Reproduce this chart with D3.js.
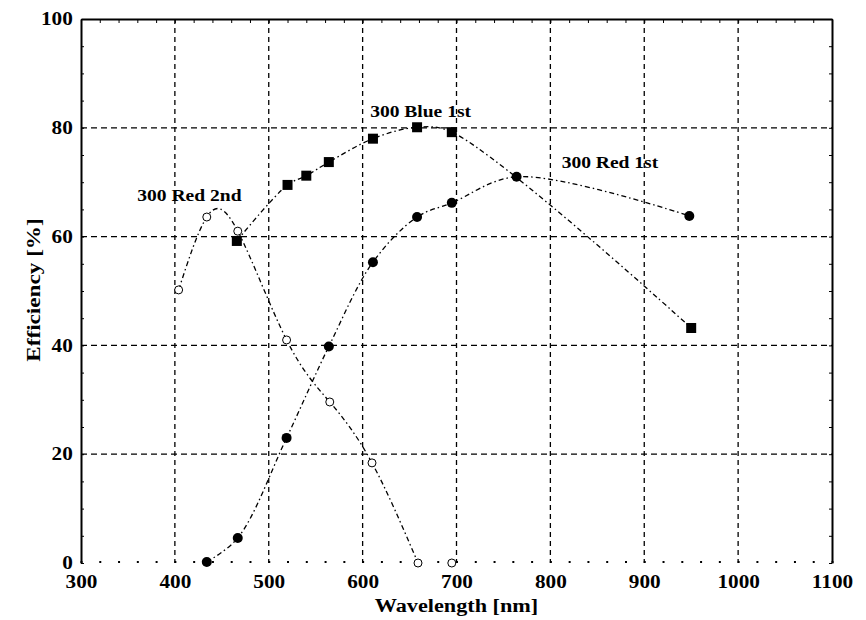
<!DOCTYPE html>
<html lang="en">
<head>
<meta charset="UTF-8">
<title>Grating efficiency</title>
<script src="https://d3js.org/d3.v7.min.js"></script>
<style>
    body { margin: 0; background: #fff; }
    svg text { font-family: "Liberation Serif", "Times New Roman", serif; font-weight: bold; fill: #000; }
</style>
</head>
<body>
<svg width="866" height="620"></svg>

<script>
    // data (wavelength in nm, efficiency in %)
    const blue1Wl  = [466, 520, 540, 564, 611, 658, 695, 950];
    const blue1Eff = [59.2, 69.5, 71.2, 73.7, 78.0, 80.1, 79.2, 43.2];

    const red1Wl  = [434, 467, 519, 564, 611, 658, 695, 764, 948];
    const red1Eff = [0.2, 4.6, 23.0, 39.8, 55.3, 63.6, 66.2, 71.0, 63.8];

    const red2Wl  = [404, 434, 467, 519, 565, 610, 659, 695];
    const red2Eff = [50.2, 63.6, 61.0, 41.0, 29.6, 18.4, 0, 0];

    const wlTicks  = [300, 400, 500, 600, 700, 800, 900, 1000, 1100];
    const effTicks = [0, 20, 40, 60, 80, 100];

    const zip = (xs, ys) => xs.map((x, i) => ({x: x, y: ys[i]}));
    const blue1 = zip(blue1Wl, blue1Eff),
          red1 = zip(red1Wl, red1Eff),
          red2 = zip(red2Wl, red2Eff);

    var svg = d3.select("svg"),
        marginLeft = 81, marginTop = 19,
        width = 751, height = 544;

    var x = d3.scaleLinear().domain([300, 1100]).range([0, width]),
        y = d3.scaleLinear().domain([0, 100]).range([height, 0]);

    var g = svg.append("g").attr("transform", "translate(" + marginLeft + "," + marginTop + ")");

    const stretch = 1.18;   // the original font is wider than Liberation Serif

    // grid
    g.selectAll(".vgrid")
        .data(wlTicks.slice(1, -1))
        .enter().append("line")
        .attr("x1", d => x(d)).attr("x2", d => x(d))
        .attr("y1", 0).attr("y2", height)
        .attr("stroke", "#000").attr("stroke-width", 1.3)
        .attr("stroke-dasharray", "5,4");

    g.selectAll(".hgrid")
        .data(effTicks.slice(1, -1))
        .enter().append("line")
        .attr("x1", 0).attr("x2", width)
        .attr("y1", d => y(d)).attr("y2", d => y(d))
        .attr("stroke", "#000").attr("stroke-width", 1.3)
        .attr("stroke-dasharray", "6,4");

    // minor ticks, every 20 nm and every 5 %
    const minorWl = d3.range(300, 1101, 20),
          minorEff = d3.range(0, 101, 5);

    g.append("g")
        .call(d3.axisTop(x).tickValues(minorWl).tickSizeInner(-4).tickSizeOuter(0).tickFormat(""))
        .call(a => a.select(".domain").attr("stroke-width", 2));

    g.append("g")
        .attr("transform", "translate(0," + height + ")")
        .call(d3.axisBottom(x).tickValues(minorWl).tickSizeInner(-2).tickSizeOuter(0).tickFormat(""))
        .call(a => a.select(".domain").remove())
        .call(a => a.selectAll(".tick line").attr("stroke-width", 2));

    g.append("g")
        .call(d3.axisLeft(y).tickValues(minorEff).tickSizeInner(-3).tickSizeOuter(0).tickFormat(""))
        .call(a => a.select(".domain").attr("stroke-width", 2));

    g.append("g")
        .attr("transform", "translate(" + width + ",0)")
        .call(d3.axisRight(y).tickValues(minorEff).tickSizeInner(-3).tickSizeOuter(0).tickFormat(""))
        .call(a => a.select(".domain").attr("stroke-width", 2));

    // tick labels
    g.append("g")
        .attr("transform", "translate(0," + height + ")")
        .call(d3.axisBottom(x).tickValues(wlTicks).tickFormat(d3.format("d")).tickSize(0).tickPadding(12))
        .call(a => a.select(".domain").remove())
        .call(a => a.selectAll("text")
            .attr("transform", "scale(" + stretch + ",1)")
            .style("font-size", "18px"));

    g.append("g")
        .call(d3.axisLeft(y).tickValues(effTicks).tickSize(0).tickPadding(7))
        .call(a => a.select(".domain").remove())
        .call(a => a.selectAll("text")
            .attr("transform", "scale(" + stretch + ",1)")
            .style("font-size", "18px"));

    // axis titles
    svg.append("text")
        .attr("transform", "translate(" + (marginLeft + width / 2) + ",612) scale(1.17,1)")
        .attr("text-anchor", "middle")
        .style("font-size", "19px")
        .text("Wavelength [nm]");

    svg.append("text")
        .attr("transform", "translate(40,290) rotate(-90) scale(1.22,1)")
        .attr("text-anchor", "middle")
        .style("font-size", "19px")
        .text("Efficiency [%]");

    // curves: smooth splines through the points
    const line = curve => d3.line()
        .x(d => x(d.x))
        .y(d => y(d.y))
        .curve(curve);

    const curveStyle = sel => sel
        .attr("fill", "none")
        .attr("stroke", "#000")
        .attr("stroke-width", 1.3)
        .attr("stroke-dasharray", "5,3,1.5,3");

    g.append("path").datum(blue1).attr("d", line(d3.curveCatmullRom.alpha(0.5))).call(curveStyle);
    g.append("path").datum(red1).attr("d", line(d3.curveCatmullRom.alpha(0.5))).call(curveStyle);
    // the 2nd order curve stops at its first zero
    g.append("path").datum(red2.slice(0, -1)).attr("d", line(d3.curveNatural)).call(curveStyle);

    // markers
    g.selectAll(".sq")
        .data(blue1)
        .enter().append("rect")
        .attr("x", d => x(d.x) - 5)
        .attr("y", d => y(d.y) - 5)
        .attr("width", 10).attr("height", 10)
        .attr("fill", "#000");

    g.selectAll(".dot")
        .data(red1)
        .enter().append("circle")
        .attr("cx", d => x(d.x))
        .attr("cy", d => y(d.y))
        .attr("r", 5)
        .attr("fill", "#000");

    g.selectAll(".ring")
        .data(red2)
        .enter().append("circle")
        .attr("cx", d => x(d.x))
        .attr("cy", d => y(d.y))
        .attr("r", 4)
        .attr("fill", "#fff")
        .attr("stroke", "#000")
        .attr("stroke-width", 1);

    // series labels
    const labels = [
        {text: "300 Blue 1st", wl: 608, eff: 82.0},
        {text: "300 Red 1st", wl: 812, eff: 72.6},
        {text: "300 Red 2nd", wl: 360, eff: 66.5}
    ];

    g.selectAll(".lbl")
        .data(labels)
        .enter().append("text")
        .attr("transform", d => "translate(" + x(d.wl) + "," + y(d.eff) + ") scale(1.15,1)")
        .style("font-size", "17px")
        .text(d => d.text);
</script>
</body>
</html>
